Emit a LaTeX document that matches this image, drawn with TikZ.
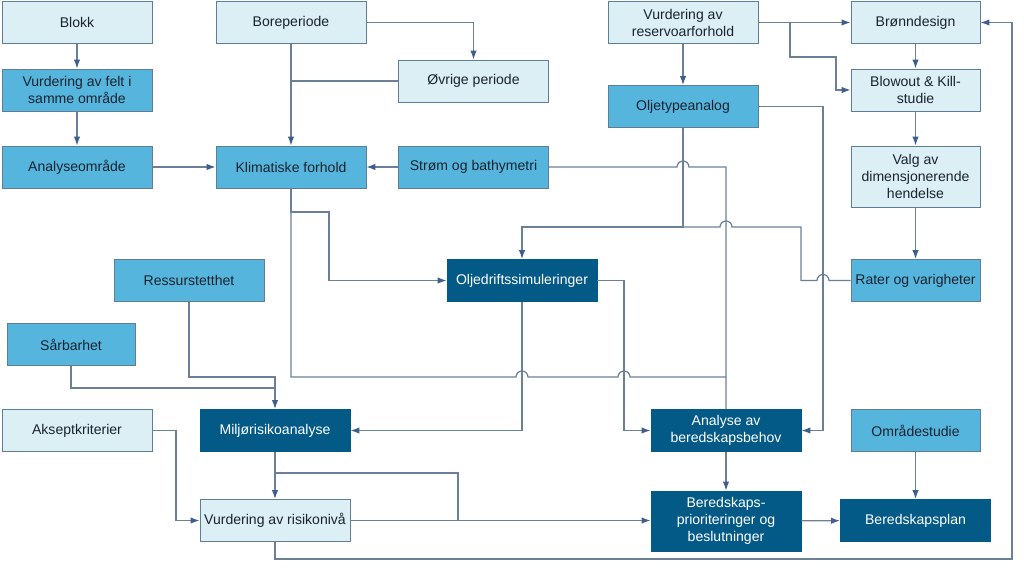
\documentclass[tikz,border=0pt]{standalone}
\usepackage{fontspec}
\setmainfont{Liberation Sans}
\usepackage{tikz}
\usetikzlibrary{arrows.meta}

\definecolor{lys}{HTML}{DCEFF5}
\definecolor{middels}{HTML}{55B5DD}
\definecolor{mork}{HTML}{045A87}
\definecolor{kant}{HTML}{5F7D94}
\definecolor{linjefarge}{HTML}{6B7F96}
\definecolor{pilfarge}{HTML}{3E5E8E}
\definecolor{tekst}{HTML}{1B2330}

\begin{document}
\begin{tikzpicture}[x=0.02cm,y=-0.02cm,
  boks/.style={draw=kant,line width=0.55pt,inner sep=0pt,align=center,
    minimum width=3cm,minimum height=0.84cm,
    font=\fontsize{8}{9.7}\selectfont},
  lysboks/.style={boks,fill=lys,text=tekst},
  midboks/.style={boks,fill=middels,text=tekst},
  morkboks/.style={boks,fill=mork,draw=mork,text=white},
  linje/.style={draw=linjefarge,line width=0.7pt},
  pil/.style={linje,-{Latex[length=1.8mm,width=1.3mm,color=pilfarge]}}]
\useasboundingbox (0,0) rectangle (1024,571);

\node[lysboks] (blokk) at (77,22.5) {Blokk};
\node[midboks] (felt) at (77,90) {Vurdering av felt i\\samme område};
\node[midboks] (analyse) at (77,167) {Analyseområde};
\node[lysboks] (bore) at (291,22.5) {Boreperiode};
\node[midboks] (klima) at (291,167) {Klimatiske forhold};
\node[lysboks] (ovrige) at (473.5,81) {Øvrige periode};
\node[midboks] (strom) at (473.5,167) {Strøm og bathymetri};
\node[lysboks] (reservoar) at (683,22.5) {Vurdering av\\reservoarforhold};
\node[midboks] (oljetype) at (683,106.5) {Oljetypeanalog};
\node[lysboks,minimum width=2.58cm] (bronn) at (915.5,22.5) {Brønndesign};
\node[lysboks,minimum width=2.58cm] (blowout) at (915.5,90) {Blowout \& Kill-\\studie};
\node[lysboks,minimum width=2.58cm,minimum height=1.22cm] (valg) at (915.5,176.5) {Valg av\\dimensjonerende\\hendelse};
\node[midboks,minimum width=2.58cm] (rater) at (915.5,280.5) {Rater og varigheter};
\node[midboks] (ressurs) at (189,280.5) {Ressurstetthet};
\node[midboks,minimum width=2.56cm] (sarbar) at (71,344.5) {Sårbarhet};
\node[morkboks] (olje) at (522,280.5) {Oljedriftssimuleringer};
\node[lysboks] (aksept) at (77,430.5) {Akseptkriterier};
\node[morkboks] (miljo) at (275,430.5) {Miljørisikoanalyse};
\node[lysboks] (risiko) at (275,520.5) {Vurdering av risikonivå};
\node[morkboks] (behov) at (726,430.5) {Analyse av\\beredskapsbehov};
\node[morkboks,minimum height=1.2cm] (prior) at (726,521) {Beredskaps-\\prioriteringer og\\beslutninger};
\node[midboks,minimum width=2.58cm] (omrade) at (915.5,430.5) {Områdestudie};
\node[morkboks] (plan) at (915.5,520.5) {Beredskapsplan};

\foreach \a/\b in {blokk/felt,felt/analyse,analyse/klima,bore/klima,strom/klima,
  reservoar/oljetype,reservoar/bronn,bronn/blowout,blowout/valg,valg/rater,
  miljo/risiko,behov/prior,prior/plan,omrade/plan}
  \draw[pil] (\a) -- (\b);

\draw[pil] (bore.east) -| (ovrige.north);
\draw[linje] (ovrige.west) -- (ovrige.west -| bore.south);
\coordinate (gren) at (790,22.5);
\draw[pil] (gren) |- (836,57) |- (blowout.west);

\draw[linje] (strom.east) -- (677,167) arc[start angle=180,end angle=0,radius=0.12cm]
  -- (behov.north |- strom.east) -- (behov.north);
\draw[linje] (klima.south) |- (516,377) arc[start angle=180,end angle=0,radius=0.12cm]
  -- (618,377) arc[start angle=180,end angle=0,radius=0.12cm] -- (726,377);
\draw[pil] (klima.south) -- (291,212) -| (329,280.5) -- (olje.west);
\draw[pil] (oljetype.south) -- (683,227) -| (olje.north);
\draw[linje] (rater.west) -- (829,280.5) arc[start angle=0,end angle=180,radius=0.12cm]
  -- (801,280.5) |- (732,227) arc[start angle=0,end angle=180,radius=0.12cm] -- (683,227);
\draw[pil] (oljetype.east) -| (823,430.5) -- (behov.east);
\draw[pil] (olje.south) |- (miljo.east);
\draw[pil] (olje.east) -- (624,280.5) |- (behov.west);

\draw[pil] (ressurs.south) |- (275,377) -- (miljo.north);
\draw[linje] (sarbar.south) |- (275,388);
\draw[pil] (aksept.east) -- (176,430.5) |- (risiko.west);
\draw[linje] (275,473) -| (458,520.5);
\draw[pil] (risiko.east) -- (prior.west |- risiko.east);
\draw[pil] (risiko.south) |- (1012,559) |- (bronn.east);
\end{tikzpicture}
\end{document}
